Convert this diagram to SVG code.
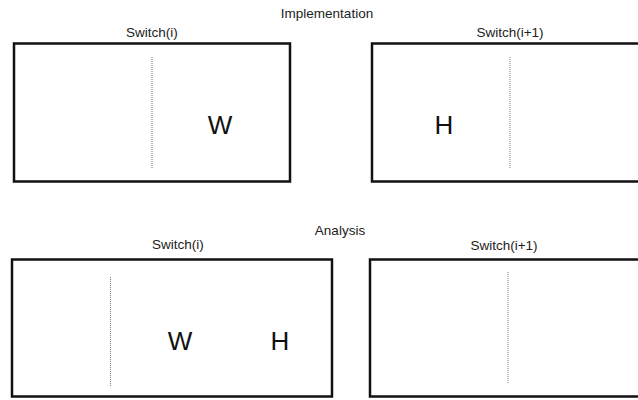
<svg xmlns="http://www.w3.org/2000/svg" width="638" height="400" viewBox="0 0 638 400">
  <style>
    .box { fill: #ffffff; stroke: #111111; stroke-width: 2.5; }
    .div { stroke: #777777; stroke-width: 1; stroke-dasharray: 1 1; }
    .cap { font-family: "Liberation Sans", Arial, sans-serif; font-size: 13.5px; fill: #222222; text-anchor: middle; }
    .big { font-family: "Liberation Sans", Arial, sans-serif; font-size: 26px; fill: #111111; text-anchor: middle; }
  </style>
  <rect width="638" height="400" fill="#ffffff"/>

  <!-- section titles -->
  <text class="cap" x="327" y="17.5">Implementation</text>
  <text class="cap" x="340" y="235">Analysis</text>

  <!-- implementation: switch i -->
  <g id="impl-switch-i">
    <text class="cap" x="152" y="36.5">Switch(i)</text>
    <rect class="box" x="14" y="43.5" width="276" height="138"/>
    <line class="div" x1="152" y1="57" x2="152" y2="168"/>
    <text class="big" x="220" y="134">W</text>
  </g>

  <!-- implementation: switch i+1 -->
  <g id="impl-switch-i1">
    <text class="cap" x="510" y="36.5">Switch(i+1)</text>
    <rect class="box" x="372" y="43.5" width="280" height="138"/>
    <line class="div" x1="510" y1="57" x2="510" y2="168"/>
    <text class="big" x="444" y="134">H</text>
  </g>

  <!-- analysis: switch i -->
  <g id="ana-switch-i">
    <text class="cap" x="178" y="249">Switch(i)</text>
    <rect class="box" x="12" y="259.5" width="320" height="137"/>
    <line class="div" x1="110.5" y1="277" x2="110.5" y2="387"/>
    <text class="big" x="180" y="350">W</text>
    <text class="big" x="280" y="350">H</text>
  </g>

  <!-- analysis: switch i+1 -->
  <g id="ana-switch-i1">
    <text class="cap" x="504" y="250">Switch(i+1)</text>
    <rect class="box" x="370" y="259.5" width="280" height="137"/>
    <line class="div" x1="508" y1="272" x2="508" y2="383"/>
  </g>

  <g id="connectors"/>
</svg>
